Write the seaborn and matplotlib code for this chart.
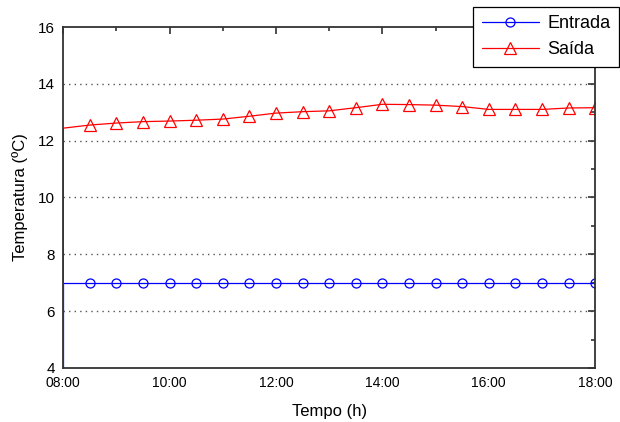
import matplotlib
matplotlib.use("Agg")
import matplotlib.pyplot as plt
import seaborn as sns
import pandas as pd
from matplotlib.ticker import MultipleLocator, FixedLocator

# hours (decimal); first two points at 08:00 are the start-up jump
tempo = [8.0, 8.0, 8.5, 9.0, 9.5, 10.0, 10.5, 11.0, 11.5, 12.0, 12.5, 13.0,
         13.5, 14.0, 14.5, 15.0, 15.5, 16.0, 16.5, 17.0, 17.5, 18.0]
entrada = [3.0, 7.0, 7.0, 7.0, 7.0, 7.0, 7.0, 7.0, 7.0, 7.0, 7.0, 7.0,
           7.0, 7.0, 7.0, 7.0, 7.0, 7.0, 7.0, 7.0, 7.0, 7.0]
saida = [3.0, 12.44, 12.55, 12.62, 12.67, 12.69, 12.72, 12.76, 12.86, 12.97, 13.02, 13.05,
         13.16, 13.28, 13.27, 13.25, 13.2, 13.1, 13.1, 13.1, 13.15, 13.16]
x_ticks = [8, 10, 12, 14, 16, 18]
x_labels = ["08:00", "10:00", "12:00", "14:00", "16:00", "18:00"]

sns.set_style("white")
plt.rcParams['font.family'] = ['Liberation Sans', 'DejaVu Sans']
plt.rcParams.update({"text.color": "black", "axes.labelcolor": "black",
                     "xtick.labelcolor": "black", "ytick.labelcolor": "black"})

df = pd.DataFrame({"Tempo": tempo, "Entrada": entrada, "Saída": saida})

fig, ax = plt.subplots(figsize=(6.2, 4.22), dpi=100)
marks = list(range(2, len(tempo)))
sns.lineplot(data=df, x="Tempo", y="Entrada", ax=ax, color="blue", lw=0.9,
             marker="o", markersize=6.5, markerfacecolor="none", markeredgecolor="blue",
             markeredgewidth=0.9, markevery=marks, estimator=None, sort=False, label="Entrada")
sns.lineplot(data=df, x="Tempo", y="Saída", ax=ax, color="red", lw=0.9,
             marker="^", markersize=8, markerfacecolor="none", markeredgecolor="red",
             markeredgewidth=0.9, markevery=marks, estimator=None, sort=False, label="Saída")

ax.set_xlim(8, 18)
ax.set_ylim(4, 16)
ax.xaxis.set_major_locator(FixedLocator(x_ticks))
ax.set_xticklabels(x_labels)
ax.xaxis.set_minor_locator(MultipleLocator(1))
ax.yaxis.set_major_locator(MultipleLocator(2))
ax.yaxis.set_minor_locator(MultipleLocator(1))
ax.tick_params(which="both", direction="in", top=True, right=True,
               color="#333333", width=1.2)
ax.tick_params(axis="y", labelsize=11, pad=6)
ax.tick_params(axis="x", labelsize=10, pad=5.5)
ax.tick_params(which="major", length=5)
ax.tick_params(which="minor", length=3)
for s in ax.spines.values():
    s.set_color("#333333")
    s.set_linewidth(1.3)
for yv in [6, 8, 10, 12, 14]:
    ax.axhline(yv, color="#555555", ls=(0, (1, 3)), lw=1.0, zorder=0)

ax.set_xlabel("Tempo (h)", fontsize=12, labelpad=10)
ax.set_ylabel("Temperatura (ºC)", fontsize=12, labelpad=7)

leg = ax.legend(loc="upper left", bbox_to_anchor=(0.771, 1.058), fontsize=13,
                frameon=True, fancybox=False, edgecolor="black", framealpha=1,
                handlelength=3.2, borderpad=0.45, labelspacing=0.5, handletextpad=0.45,
                borderaxespad=0)
leg.get_frame().set_linewidth(0.9)

fig.subplots_adjust(left=0.102, right=0.96, top=0.936, bottom=0.128)
fig.savefig("out.png", dpi=100)
